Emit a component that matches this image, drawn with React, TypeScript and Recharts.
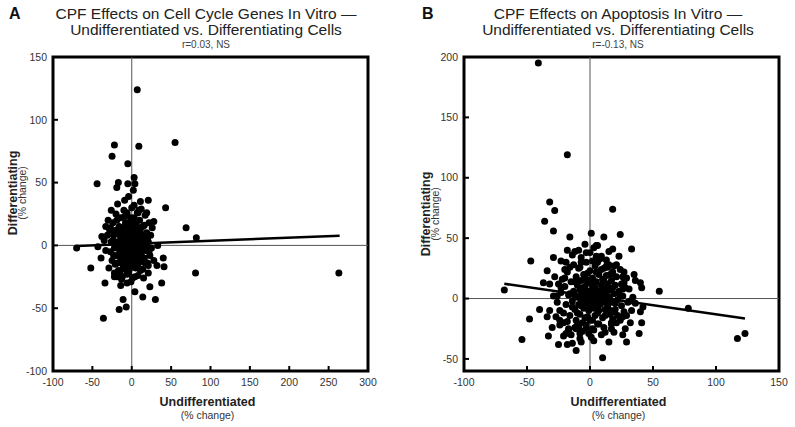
// CPF scatter panels: undifferentiated vs differentiating cells
import { ScatterChart, Scatter, XAxis, YAxis, ReferenceLine, ReferenceArea, Label } from 'recharts';

const FONT = '"Liberation Sans", Arial, Helvetica, sans-serif';

// Panel A — cell cycle genes
const cellCycleXTicks = [-100, -50, 0, 50, 100, 150, 200, 250, 300];
const cellCycleYTicks = [-100, -50, 0, 50, 100, 150];
const cellCycleOuter: [number, number][] = [
    [7, 124], [55, 82], [-22, 80], [9, 79], [-25, 71], [-5, 65], [3, 54], [-44, 49], [-17, 50], [-19, 46],
    [-5, 49], [4, 49], [2, 44], [-9, 36], [-4, 39], [11, 35], [21, 36], [43, 30], [-6, 26], [8, 26],
    [19, 26], [-19, 20], [-33, 15], [28, 19], [69, 14], [82, 6], [-70, -2], [-43, -1], [-38, 7], [-35, 4],
    [-52, -18], [-39, -10], [-22, -22], [-34, -30], [-14, -32], [-12, -25], [-1, -29], [4, -37], [14, -41], [23, -33],
    [30, -43], [38, -30], [40, -10], [41, -17], [32, -16], [21, -16], [81, -22], [263, -22], [-11, -43], [-7, -49],
    [-16, -51], [-36, -58], [33, 0],
];
const cellCycleCore: [number, number][] = [
    [-30, 20], [-28, 12], [-27, -5], [-26, 3], [-25, -12], [-24, 18], [-23, 8], [-22, -2], [-21, -15], [-20, 25],
    [-20, 12], [-19, -8], [-18, 3], [-17, -20], [-16, 15], [-16, -3], [-15, 8], [-14, -12], [-14, 22], [-13, 0],
    [-12, -6], [-12, 14], [-11, 5], [-11, -18], [-10, 28], [-10, -2], [-9, 10], [-9, -10], [-8, 18], [-8, 2],
    [-7, -14], [-7, -4], [-6, 7], [-6, 24], [-5, -8], [-5, 13], [-4, 0], [-4, -22], [-3, 5], [-3, -12],
    [-2, 19], [-2, -3], [-1, 9], [-1, -16], [0, 2], [0, 30], [0, -7], [1, 14], [1, -26], [2, -1],
    [2, 6], [3, -11], [3, 22], [4, 3], [4, -5], [5, 11], [5, -18], [6, -2], [6, 16], [7, 7],
    [7, -9], [8, 0], [8, -24], [9, 12], [9, -4], [10, 20], [10, -13], [11, 4], [12, -7], [12, 9],
    [13, -1], [14, 15], [14, -19], [15, 5], [16, -10], [17, 24], [17, 0], [18, -4], [19, 10], [20, -14],
    [21, 3], [22, 18], [23, -8], [24, 8], [25, -2], [-33, -4], [-29, -18], [-26, 28], [-18, 33], [-13, -27],
    [-6, -30], [3, 32], [9, 28], [15, -26], [21, -22], [26, 14], [28, -12], [-31, 8], [-22, -25], [-8, -19],
    [11, -20], [1, -12], [-3, -19], [5, -14], [-15, -22], [7, 26], [-9, 23], [12, 29], [-19, -25],
    [-14, 4], [-12, -14], [-10, 6], [-9, -15], [-8, 12], [-7, -9], [-6, 1], [-5, 17], [-4, -4], [-3, 9],
    [-2, -8], [-1, 3], [0, -12], [0, 12], [1, -4], [1, 7], [2, -16], [3, 1], [4, 17], [5, -9],
    [6, 5], [7, -2], [8, -15], [9, 7], [10, -7], [11, 13], [12, -2], [13, -11], [14, 6], [-11, -5],
    [-13, 10], [-16, -8], [-18, -14], [-20, 0], [-23, -8], [17, -14], [19, -2], [16, 16], [-1, 22], [4, -25],
    [-6, -23], [-24, 4], [-27, 14], [20, 6], [22, -5],
];
const cellCycleFit = [{ x: -70, y: -0.5 }, { x: 264, y: 7.7 }];

// Panel B — apoptosis
const apoptosisXTicks = [-100, -50, 0, 50, 100, 150];
const apoptosisYTicks = [-50, 0, 50, 100, 150, 200];
const apoptosisOuter: [number, number][] = [
    [-41, 195], [-18, 119], [-32, 80], [-28, 73], [18, 74], [-36, 64], [-29, 56], [-16, 51], [1, 54], [11, 51],
    [24, 53], [33, 41], [18, 41], [5, 44], [3, 42], [-12, 39], [-47, 31], [-29, 34], [-23, 31], [-3, 38],
    [9, 35], [-7, 30], [-8, 26], [2, 31], [13, 27], [19, 27], [-34, 23], [-20, 17], [-37, 13], [-32, 12],
    [-23, 9], [-68, 7], [-26, 2], [26, 18], [36, 15], [40, 13], [41, 9], [55, 6], [26, 8], [34, 1],
    [32, -2], [-40, -9], [-48, -17], [-32, -10], [-34, -15], [-54, -34], [-33, -31], [-25, -38], [-18, -38], [-14, -37],
    [-11, -43], [-7, -36], [3, -35], [10, -49], [15, -36], [12, -28], [29, -36], [26, -30], [28, -25], [39, -29],
    [41, -20], [40, -11], [42, -7], [29, -14], [18, -17], [17, -21], [6, -21], [-3, -24], [-1, -29], [-17, -25],
    [-19, -29], [-21, -31], [-24, -18], [-24, -22], [-11, -25], [-8, -29], [117, -33], [123, -29], [78, -8],
];
const apoptosisCore: [number, number][] = [
    [-20, 10], [-19, -5], [-18, 22], [-17, 3], [-16, -14], [-15, 14], [-14, -2], [-13, 28], [-13, 6], [-12, -9],
    [-11, 18], [-11, -18], [-10, 1], [-10, 11], [-9, -5], [-9, 25], [-8, 7], [-8, -13], [-7, 15], [-7, -1],
    [-6, 4], [-6, -20], [-5, 20], [-5, -8], [-4, 10], [-4, 0], [-3, 30], [-3, -4], [-2, 14], [-2, -15],
    [-1, 6], [-1, -10], [0, 2], [0, 23], [0, -6], [1, 12], [1, -1], [2, 17], [2, -18], [3, 4],
    [3, -8], [4, 27], [4, 9], [5, -3], [5, 14], [6, 1], [6, -12], [7, 20], [7, 6], [8, -5],
    [8, 33], [9, 11], [9, -1], [10, -16], [10, 16], [11, 3], [11, 25], [12, -9], [12, 8], [13, -2],
    [13, 19], [14, 12], [14, -6], [15, 1], [15, 28], [16, -13], [16, 7], [17, 15], [18, -3], [18, 22],
    [19, 4], [20, -9], [20, 11], [21, 18], [22, -1], [22, -14], [23, 6], [24, 24], [25, -6], [25, 12],
    [26, 2], [27, -11], [28, 9], [29, 17], [30, -3], [-24, -10], [-23, 5], [-22, 16], [-21, -20], [-19, 30],
    [-17, -26], [-14, 36], [-12, -24], [-9, 40], [-6, -27], [-3, -22], [0, 38], [2, -25], [5, 35], [7, -21],
    [11, -24], [13, 32], [17, -20], [21, 28], [24, -18], [27, 22], [31, 8], [33, -10], [-26, -3], [-25, 12],
    [-28, 18], [-27, -15], [1, -32], [-8, -33], [9, -30], [19, -28], [-15, -30], [6, 44], [-4, 45], [15, 39],
    [-18, 40], [23, 35], [35, 20], [36, -4], [32, -20], [-30, -24], [-29, 2], [-2, 3], [3, -2], [-1, -3],
    [2, 8], [6, -7], [-5, 5], [9, 4], [-7, -6], [4, -14], [12, 0], [-12, 2], [16, -1], [-3, 16],
    [10, 8], [19, -11], [-10, -22], [14, 26], [-16, 26],
    [-10, -12], [-6, 9], [-4, -16], [-2, 21], [-1, 0], [1, -6], [2, 13], [4, -4], [5, 22], [7, -10],
    [8, 2], [10, -3], [11, 15], [12, -14], [13, 5], [15, -9], [16, 20], [18, 9], [20, -4], [-12, 14],
    [-14, -7], [-16, 4], [-18, -19], [-20, 24], [24, 2], [26, -15], [-7, 34], [3, -26], [9, 24], [17, -25],
    [-9, -24], [21, -20], [-21, -12], [27, 13], [0, -18], [6, 30],
];
const apoptosisFit = [{ x: -68, y: 12.2 }, { x: 123, y: -16.6 }];

const dot = (p: any) => <circle cx={p.cx} cy={p.cy} r={3.5} fill="#000" />;

interface PanelProps {
    letter: string;
    title: string[];
    stat: string;
    points: [number, number][];
    fit: { x: number; y: number }[];
    xTicks: number[];
    yTicks: number[];
    xDomain: [number, number];
    yDomain: [number, number];
    width: number;
    margin: { top: number; right: number; bottom: number; left: number };
    titleX: number;
    letterX: number;
    yLabelX: [number, number];
    yLabelY: number;
}

function Panel(props: PanelProps) {
    const { letter, title, stat, points, fit, xTicks, yTicks, xDomain, yDomain, width, margin, titleX, letterX, yLabelX, yLabelY } = props;
    const data = points.map(([x, y]) => ({ x, y }));
    const tickStyle = { fill: '#333', fontSize: 10.5, fontFamily: FONT };

    return (
        <div style={{ position: 'relative', width, height: 427 }}>
            <ScatterChart width={width} height={427} margin={margin}>
                <XAxis
                    type="number"
                    dataKey="x"
                    domain={xDomain}
                    ticks={xTicks}
                    interval={0}
                    allowDataOverflow
                    axisLine={false}
                    tickLine={{ stroke: '#000', strokeWidth: 2 }}
                    tickSize={-5}
                    tickMargin={13}
                    height={30}
                    tick={tickStyle}
                >
                    <Label
                        content={({ viewBox }: any) => {
                            const cx = viewBox.x + viewBox.width / 2 - 3;
                            return (
                                <g fontFamily={FONT} textAnchor="middle">
                                    <text x={cx} y={viewBox.y + 35} fontSize={12.5} fontWeight="bold" fill="#222">Undifferentiated</text>
                                    <text x={cx} y={viewBox.y + 48} fontSize={10.5} fill="#333">(% change)</text>
                                </g>
                            );
                        }}
                    />
                </XAxis>
                <YAxis
                    type="number"
                    dataKey="y"
                    domain={yDomain}
                    ticks={yTicks}
                    interval={0}
                    allowDataOverflow
                    axisLine={false}
                    tickLine={{ stroke: '#000', strokeWidth: 2 }}
                    tickSize={-5}
                    tickMargin={11}
                    width={30}
                    tick={tickStyle}
                >
                    <Label
                        content={() => (
                            <g fontFamily={FONT} textAnchor="middle">
                                <text transform={`translate(${yLabelX[0]}, ${yLabelY}) rotate(-90)`} fontSize={12.5} fontWeight="bold" fill="#222">Differentiating</text>
                                <text transform={`translate(${yLabelX[1]}, ${yLabelY}) rotate(-90)`} fontSize={10.5} fill="#333">(% change)</text>
                            </g>
                        )}
                    />
                </YAxis>
                <ReferenceLine x={0} stroke="#555" strokeWidth={1} />
                <ReferenceLine y={0} stroke="#555" strokeWidth={1} />
                <Scatter data={data} fill="#000" shape={dot} isAnimationActive={false} />
                <ReferenceLine segment={fit} stroke="#000" strokeWidth={2.5} ifOverflow="visible" />
                <ReferenceArea
                    x1={xDomain[0]}
                    x2={xDomain[1]}
                    y1={yDomain[0]}
                    y2={yDomain[1]}
                    fill="none"
                    stroke="#000"
                    strokeWidth={3}
                    ifOverflow="visible"
                />
            </ScatterChart>
            <svg width={width} height={56} style={{ position: 'absolute', left: 0, top: 0, pointerEvents: 'none' }}>
                <text x={letterX} y={19} fontFamily={FONT} fontSize={16} fontWeight="bold" fill="#111">{letter}</text>
                <g fontFamily={FONT} textAnchor="middle" fill="#222">
                    <text x={titleX} y={19} fontSize={15.5}>{title[0]}</text>
                    <text x={titleX} y={35} fontSize={15.5}>{title[1]}</text>
                    <text x={titleX} y={48} fontSize={10} fill="#444">{stat}</text>
                </g>
            </svg>
        </div>
    );
}

export default function App() {
    return (
        <div style={{ position: 'absolute', left: 0, top: 0, width: 795, height: 427, display: 'flex', background: '#fff' }}>
            <Panel
                letter="A"
                title={['CPF Effects on Cell Cycle Genes In Vitro —', 'Undifferentiated vs. Differentiating Cells']}
                stat="r=0.03, NS"
                points={[...cellCycleOuter, ...cellCycleCore]}
                fit={cellCycleFit}
                xTicks={cellCycleXTicks}
                yTicks={cellCycleYTicks}
                xDomain={[-100, 300]}
                yDomain={[-100, 150]}
                width={400}
                margin={{ top: 57, right: 32, bottom: 26, left: 23 }}
                titleX={206}
                letterX={9}
                yLabelX={[17, 26]}
                yLabelY={193}
            />
            <Panel
                letter="B"
                title={['CPF Effects on Apoptosis In Vitro —', 'Undifferentiated vs. Differentiating Cells']}
                stat="r=-0.13, NS"
                points={[...apoptosisOuter, ...apoptosisCore]}
                fit={apoptosisFit}
                xTicks={apoptosisXTicks}
                yTicks={apoptosisYTicks}
                xDomain={[-100, 150]}
                yDomain={[-60, 200]}
                width={395}
                margin={{ top: 57, right: 16, bottom: 26, left: 34 }}
                titleX={218}
                letterX={22}
                yLabelX={[30, 39]}
                yLabelY={214}
            />
        </div>
    );
}
